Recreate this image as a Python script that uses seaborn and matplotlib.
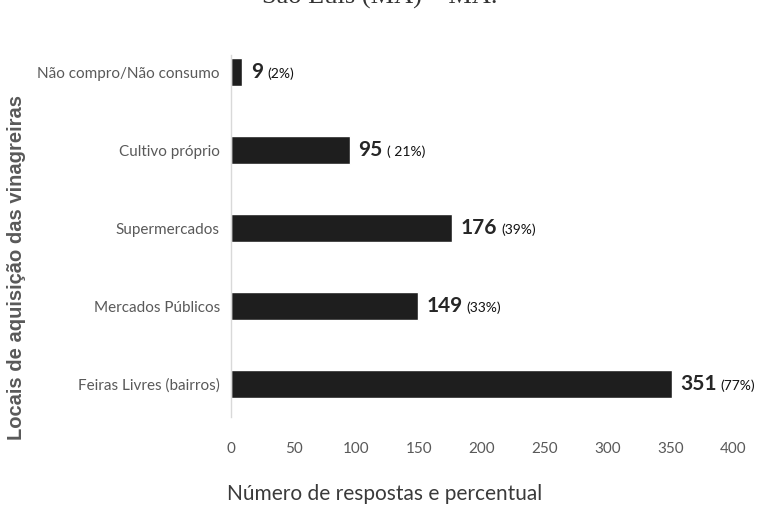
import matplotlib
matplotlib.use("Agg")
import matplotlib.pyplot as plt
import seaborn as sns
import pandas as pd

categories = ["Não compro/Não consumo", "Cultivo próprio", "Supermercados",
              "Mercados Públicos", "Feiras Livres (bairros)"]
values = [9, 95, 176, 149, 351]
percents = ["(2%)", "( 21%)", "(39%)", "(33%)", "(77%)"]
xticks = [0, 50, 100, 150, 200, 250, 300, 350, 400]

df = pd.DataFrame({"local": categories, "n": values})

sns.set_theme(style="white")
plt.rcParams["font.family"] = ["Lato", "DejaVu Sans"]

fig = plt.figure(figsize=(7.59, 5.21), dpi=100)
W, H = 759, 521
ax = fig.add_axes([231 / W, 1 - 417 / H, (733 - 231) / W, (417 - 55) / H])

sns.barplot(data=df, x="n", y="local", orient="h", color="#1e1e1e",
            saturation=1, width=0.36, ax=ax)

ax.set_xlim(0, 400)
ax.set_ylim(4.42, -0.218)
ax.set_xticks(xticks)
ax.set_xticklabels([str(t) for t in xticks], fontsize=11, color="#595959")
ax.tick_params(axis="x", length=0, pad=18)
ax.tick_params(axis="y", length=0, pad=8, labelsize=11, labelcolor="#595959")

for s in ["top", "right", "bottom"]:
    ax.spines[s].set_visible(False)
ax.spines["left"].set_color("#d9d9d9")
ax.spines["left"].set_linewidth(1)

ax.set_xlabel("")
ax.set_ylabel("")
fig.text(385 / W, 1 - 494 / H, "Número de respostas e percentual",
         ha="center", va="center", fontsize=15, color="#3a3a3a")
fig.text(17 / W, 1 - 268 / H, "Locais de aquisição das vinagreiras",
         rotation=90, ha="center", va="center", fontsize=14.5,
         fontweight="bold", color="#595959", family=["Liberation Sans"])

for i, (v, p) in enumerate(zip(values, percents)):
    t = ax.annotate(str(v), xy=(v, i), xytext=(6, 0), textcoords="offset points",
                    ha="left", va="center", fontsize=15, fontweight="bold",
                    color="#262626")
    ax.annotate(p, xy=(1, 0.5), xycoords=t, xytext=(3, -1),
                textcoords="offset points", ha="left", va="center",
                fontsize=10, color="#111111", annotation_clip=False)

fig.text(380 / W, 1 - 3.5 / H, "São Luís (MA) – MA.", ha="center",
         va="baseline", fontsize=19, color="#333333",
         family=["Liberation Serif"])

fig.savefig("out.png", dpi=100)
